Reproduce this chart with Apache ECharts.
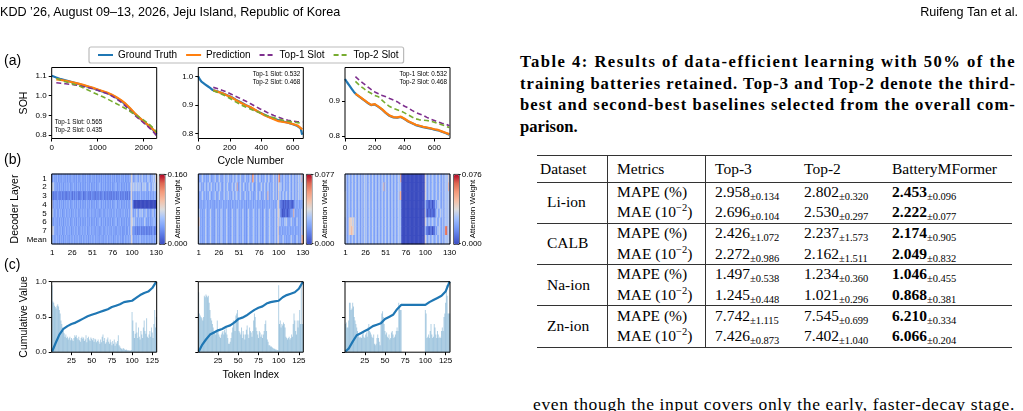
<!DOCTYPE html>
<html>
<head>
<meta charset="utf-8">
<title>Slot analysis figure and Table 4</title>
<script src="https://cdn.jsdelivr.net/npm/echarts@6.0.0/dist/echarts.min.js"></script>
<style>
html,body{margin:0;padding:0;background:#fff;}
#page{position:relative;width:1023px;height:411px;overflow:hidden;background:#fff;}
#fig{position:absolute;left:0;top:0;width:520px;height:411px;}
.txt{position:absolute;white-space:nowrap;color:#000;}
.serif{font-family:'Liberation Serif','Times New Roman',serif;}
.sans{font-family:'Liberation Sans',Arial,sans-serif;}
.cap{position:absolute;left:520px;font-family:'Liberation Serif',serif;font-weight:bold;font-size:16.6px;line-height:21px;white-space:nowrap;color:#000;}
.rule{position:absolute;background:#333;}
.cell{position:absolute;white-space:nowrap;font-family:'Liberation Serif','Times New Roman',serif;font-size:15.5px;line-height:20px;height:20px;color:#000;}
.cell sub{font-size:10.5px;vertical-align:-3px;line-height:0;}
.cell sup{font-size:10.5px;vertical-align:6px;line-height:0;}
</style>
</head>
<body>
<div id="page">
  <div id="fig"></div>
  <div class="txt sans" style="left:0;top:5px;font-size:12.6px;">KDD ’26, August 09–13, 2026, Jeju Island, Republic of Korea</div>
  <div class="txt sans" style="right:5px;top:5px;font-size:12.6px;">Ruifeng Tan et al.</div>
  <div class="cap fit" data-w="496" style="top:51px;">Table 4: Results of data-efficient learning with 50% of the</div>
  <div class="cap fit" data-w="496" style="top:72.5px;">training batteries retained. Top-3 and Top-2 denote the third-</div>
  <div class="cap fit" data-w="496" style="top:94px;">best and second-best baselines selected from the overall com-</div>
  <div class="cap" style="top:115.5px;">parison.</div>
  <div class="txt serif fit" data-w="482" style="left:533px;top:393.5px;font-size:17.5px;line-height:20px;">even though the input covers only the early, faster-decay stage.</div>
</div>
<script>
// ---------- (a) SOH curves ----------
const a1GtCycles = [0,100,200,300,400,500,600,700,800,900,1000,1100,1200,1300,1400,1500,1600,1700,1800,1900,2000,2100,2200,2280];
const a1GtSoh = [1.100,1.091,1.083,1.077,1.071,1.065,1.058,1.051,1.044,1.037,1.029,1.021,1.013,1.003,0.990,0.975,0.957,0.935,0.910,0.888,0.868,0.849,0.828,0.805];
const a1PredCycles = [100,200,300,400,500,600,700,800,900,1000,1100,1200,1300,1400,1500,1600,1700,1800,1900,2000,2100,2200,2280];
const a1PredSoh = [1.082,1.079,1.075,1.070,1.065,1.059,1.053,1.046,1.039,1.031,1.023,1.015,1.005,0.993,0.978,0.960,0.937,0.912,0.890,0.870,0.851,0.830,0.812];
const a1Top1Soh = [1.065,1.062,1.060,1.057,1.054,1.050,1.045,1.040,1.034,1.027,1.019,1.010,0.999,0.985,0.968,0.948,0.925,0.902,0.882,0.862,0.842,0.819,0.797];
const a1Top2Soh = [1.087,1.078,1.070,1.063,1.056,1.048,1.038,1.027,1.016,1.005,0.995,0.984,0.972,0.960,0.948,0.935,0.921,0.906,0.891,0.876,0.859,0.838,0.815];

const a2GtCycles = [0,10,20,30,45,60,75,90,120,150,180,210,240,270,300,330,360,390,420,450,480,510,540,570,600,630,650,660];
const a2GtSoh = [1.000,0.990,0.982,0.978,0.972,0.966,0.960,0.953,0.948,0.942,0.935,0.928,0.918,0.910,0.900,0.892,0.882,0.874,0.866,0.858,0.852,0.846,0.842,0.838,0.832,0.826,0.818,0.795];
const a2PredCycles = [95,120,150,180,210,240,270,300,330,360,390,420,450,480,510,540,570,600,630,660];
const a2PredSoh = [0.952,0.947,0.942,0.934,0.927,0.917,0.908,0.899,0.893,0.883,0.873,0.864,0.857,0.850,0.843,0.840,0.838,0.833,0.828,0.814];
const a2Top1Soh = [0.962,0.958,0.952,0.946,0.938,0.930,0.922,0.914,0.905,0.896,0.887,0.879,0.870,0.863,0.857,0.851,0.846,0.843,0.841,0.840];
const a2Top2Soh = [0.950,0.945,0.938,0.930,0.920,0.910,0.901,0.893,0.886,0.879,0.873,0.866,0.860,0.855,0.850,0.846,0.843,0.840,0.838,0.835];

const a3GtCycles = [0,15,30,45,60,75,100,125,150,175,200,225,250,275,300,325,350,375,400,425,450,475,500,525,550,575,600,625,650,675,700];
const a3GtSoh = [0.963,0.953,0.944,0.935,0.926,0.919,0.911,0.903,0.895,0.888,0.890,0.883,0.875,0.865,0.857,0.853,0.852,0.854,0.848,0.841,0.836,0.831,0.828,0.825,0.823,0.821,0.818,0.816,0.812,0.808,0.803];
const a3PredCycles = [70,100,125,150,175,200,225,250,275,300,325,350,375,400,425,450,475,500,525,550,575,600,625,650,675,700];
const a3PredSoh = [0.921,0.912,0.904,0.896,0.889,0.891,0.884,0.876,0.866,0.858,0.854,0.853,0.855,0.849,0.842,0.837,0.832,0.829,0.826,0.824,0.822,0.819,0.817,0.813,0.809,0.805];
const a3Top1Soh = [0.970,0.958,0.950,0.941,0.933,0.926,0.921,0.916,0.912,0.907,0.903,0.898,0.891,0.885,0.880,0.873,0.867,0.863,0.859,0.853,0.848,0.844,0.840,0.836,0.834,0.829];
const a3Top2Soh = [0.956,0.944,0.936,0.928,0.922,0.916,0.912,0.902,0.892,0.884,0.879,0.875,0.871,0.866,0.860,0.854,0.849,0.846,0.845,0.844,0.842,0.839,0.835,0.832,0.828,0.824];

const slotNotes = [['Top-1 Slot: 0.565', 'Top-2 Slot: 0.435'], ['Top-1 Slot: 0.532', 'Top-2 Slot: 0.468'], ['Top-1 Slot: 0.532', 'Top-2 Slot: 0.468']];

// ---------- (b) attention heatmaps: one digit per token, 0..9 = share of colorbar max ----------
const layerLabels = ['1', '2', '3', '4', '5', '6', '7', 'Mean'];
const heatTickIdx = [0, 25, 50, 75, 99, 129];
const heatMax = [0.160, 0.077, 0.076];
const heat1Rows = [
  '2232322322 3223232232 2322323223 2232232322 3223232223 2322322322 3223232232 2322323223 2232232322 3223223245 3232433234 2343233234 3323334345',
  '4443232232 2323223232 3232232323 2232322322 3223232232 2322322323 3223232232 2322322323 3223232232 2322322345 3434343434 3243434323 3432343443',
  '3212121221 2121212112 1212211212 2121121221 1212212112 2121121212 1212212121 2121121212 1212212121 2121121245 2323232323 3232323232 2323232332',
  '6323232232 2323223232 3232232323 2232322322 3223232232 2322322323 3223232232 2322322323 3223232232 2322322345 2100000000 0000000000 0000000000',
  '4432323223 3232232323 2323223232 3232232323 2323223232 3232232322 2323223232 3232232323 2323223232 3232232345 3233243234 3343233423 2323243233',
  '3323232232 2323223232 3232232323 2232322322 3223232232 2322322323 3223232232 2322322323 3223232232 2322322345 4343232332 3232343232 2323233332',
  '5443232232 3232232323 2323223232 3232232323 2323223232 3232232322 2323223232 3232232322 2323223222 2322232345 2222121212 2121212121 2121222121',
  '3332323232 2323223232 3223232323 2323232232 3232322323 2323232322 3232232323 2323232232 3232323222 3232323245 3232323233 3232323232 3232323233'
];
const heat2Rows = [
  '3232343233 2323432323 3423234323 2343233432 3234323433 2343232343 2323432763 2343234323 3234323432 3234324325 8423234323 3234323432 3423434363',
  '3343232343 2343234323 3234323432 2343234323 2343234362 2343234323 3234323432 2343232343 2343234323 3234324325 4343234323 3234323432 3423434334',
  '3232343233 2323432323 3423234323 2343233432 3234323433 2343232343 2323432323 2343234323 2343236323 3234324325 3432343234 3234323432 3423434334',
  '2323232323 3232323232 2323232323 3232323232 2323232323 3232323232 2323232323 3232323232 2323232323 3232323245 3211101101 1011110112 3232323233',
  '3432323234 3232343232 2343232343 3232343232 2343232343 3232343232 2343232343 3232343232 2343232343 3232343245 4311010111 0111223263 2323232343',
  '6532323234 3232343232 2343232343 3232343232 2343232343 3232343232 2343232343 3232343232 2343232343 3232343245 3432323434 3232343232 2343232343',
  '4432323234 3232343232 2343232343 3232343232 2343232343 3232343232 2343232343 3232343232 2343232343 3232343245 2323232323 2323232323 2323232353',
  '3432323234 3232343232 2343232343 3232343232 2343232343 3232343232 2343232343 3232343232 2343232343 3232343245 3232343232 3232343232 2343232366'
];
const heat3Rows = [
  '3432343234 3234323432 3423434323 4323432343 2343234323 4323432343 2343234347 0000000000 0000000000 0000000005 4323432343 3234323432 3423434353',
  '3432343234 3234323432 3423434323 4323432343 2343234362 4323432343 2343234343 0000000000 0000000000 0000000005 4323432343 3234323432 3423434363',
  '4432343234 3234323432 3423434323 4323432343 2343234323 4323432343 2343234366 0000000000 0000000000 0000000005 4323432343 3234323432 3423434343',
  '4432343234 3234323432 3423434323 4323432343 2343234323 4323432343 2343234343 0000000000 0000000000 0000000004 2111011101 1132343432 3423434343',
  '4432343234 3234323432 3423434323 4323432343 2343234323 4323432343 2343234343 0000000000 0000000000 0000000005 2101110111 0123432343 3423434343',
  '3432355554 5434323432 3423434323 4323432343 2343234323 4323432343 2343234343 0000000000 0000000000 0000000005 4323432343 3234323432 3423434343',
  '3432355565 5434323432 3423434323 4323432343 2343234323 4323432343 2343234343 0000000000 0000000000 0000000004 2111011101 1132343432 3423787343',
  '3432343234 3234323432 3423434323 4323432343 2343234323 4323432343 2343234343 0000000000 0000000000 0000000005 4323432343 3234323432 3423434343'
];

// ---------- (c) token attention bars and cumulative curves ----------
const c1Bars = [0.95,0.72,0.70,0.66,0.64,0.62,0.66,0.68,0.65,0.60, 0.55,0.45,0.40,0.35,0.30,0.27,0.22,0.25,0.20,0.22,
  0.18,0.20,0.22,0.17,0.20,0.18,0.16,0.20,0.24,0.22, 0.24,0.20,0.18,0.22,0.17,0.15,0.20,0.22,0.19,0.21,
  0.16,0.18,0.24,0.14,0.20,0.22,0.18,0.16,0.21,0.19, 0.17,0.20,0.15,0.19,0.18,0.14,0.16,0.18,0.15,0.12,
  0.18,0.14,0.22,0.25,0.16,0.20,0.12,0.14,0.18,0.21, 0.15,0.12,0.18,0.14,0.10,0.16,0.12,0.18,0.09,0.14,
  0.12,0.16,0.24,0.10,0.08,0.06,0.05,0.04,0.06,0.05, 0.04,0.03,0.04,0.03,0.02,0.03,0.02,0.02,0.03,0.57,
  0.45,0.30,0.20,0.26,0.42,0.28,0.20,0.35,0.22,0.18, 0.30,0.25,0.20,0.35,0.45,0.30,0.26,0.48,0.22,0.20,
  0.25,0.30,0.22,0.35,0.28,0.20,0.40,0.60,0.35,0.50];
const c2Bars = [0.85,0.55,0.52,0.50,0.48,0.45,0.50,0.80,0.78,0.82, 0.80,0.78,0.80,0.70,0.60,0.48,0.45,0.40,0.35,0.30,
  0.28,0.25,0.30,0.45,0.30,0.25,0.22,0.20,0.25,0.28, 0.30,0.25,0.32,0.28,0.35,0.25,0.20,0.12,0.12,0.15,
  0.20,0.28,0.35,0.45,0.40,0.30,0.52,0.55,0.60,0.50, 0.30,0.28,0.25,0.35,0.20,0.30,0.25,0.18,0.25,0.32,
  0.38,0.25,0.20,0.35,0.30,0.28,0.22,0.30,0.45,0.55, 0.50,0.35,0.30,0.25,0.20,0.30,0.28,0.22,0.25,0.20,
  0.25,0.30,0.40,0.45,0.30,0.18,0.15,0.10,0.10,0.08, 0.08,0.07,0.06,0.05,0.05,0.04,0.04,0.03,0.03,0.95,
  0.40,0.45,0.35,0.40,0.38,0.42,0.40,0.35,0.22,0.20, 0.18,0.20,0.22,0.18,0.20,0.25,0.22,0.40,0.55,0.45,
  0.30,0.25,0.45,0.35,0.45,0.60,0.40,0.95,0.40,0.40];
const c3Bars = [0.40,0.42,0.35,0.35,0.45,0.70,0.70,0.60,0.62,0.70, 0.65,0.50,0.45,0.40,0.35,0.30,0.25,0.22,0.20,0.22,
  0.20,0.25,0.30,0.22,0.20,0.25,0.28,0.22,0.35,0.40, 0.30,0.28,0.25,0.22,0.20,0.25,0.12,0.10,0.12,0.20,
  0.25,0.20,0.15,0.10,0.45,0.55,0.58,0.50,0.40,0.30, 0.25,0.28,0.22,0.20,0.25,0.18,0.20,0.28,0.30,0.25,
  0.20,0.22,0.25,0.30,0.35,0.30,0.70,0.65,0.60,0.60, 0,0,0,0,0,0,0,0,0,0,
  0,0,0,0,0,0,0,0,0,0, 0,0,0,0,0,0,0,0,0,0.60,
  0.55,0.20,0.22,0.25,0.20,0.30,0.40,0.25,0.20,0.22, 0.40,0.35,0.25,0.20,0.30,0.25,0.20,0.22,0.20,0.30,
  0.35,0.30,0.50,0.55,0.70,0.95,0.80,0.55,0.55,0.55];
const cumTokens = [1,5,10,15,20,25,30,35,40,45,50,55,60,65,70,75,80,85,90,95,100,105,110,115,120,125,130];
const c1Cum = [0.01,0.12,0.25,0.33,0.37,0.40,0.42,0.45,0.48,0.51,0.53,0.55,0.57,0.59,0.61,0.64,0.66,0.68,0.71,0.72,0.73,0.77,0.81,0.84,0.86,0.91,1.00];
const c2Cum = [0.01,0.10,0.18,0.25,0.28,0.31,0.33,0.36,0.38,0.42,0.47,0.49,0.52,0.56,0.60,0.63,0.65,0.69,0.71,0.72,0.73,0.78,0.81,0.83,0.85,0.90,1.00];
const c3Cum = [0.01,0.05,0.15,0.24,0.27,0.30,0.33,0.37,0.39,0.41,0.47,0.50,0.53,0.61,0.67,0.67,0.67,0.67,0.67,0.67,0.67,0.71,0.74,0.77,0.80,0.86,1.00];
const tokenTicks = [25, 50, 75, 100, 125];

// ---------- Table 4 ----------
const tableDatasets = ['Li-ion', 'CALB', 'Na-ion', 'Zn-ion'];
const tableMetrics = ['MAPE (%)', 'MAE (10<sup>−2</sup>)'];
const tableHeader = ['Dataset', 'Metrics', 'Top-3', 'Top-2', 'BatteryMFormer'];
const top3Mean = [2.958, 2.696, 2.426, 2.272, 1.497, 1.245, 7.742, 7.426];
const top3Std = [0.134, 0.104, 1.072, 0.986, 0.538, 0.448, 1.115, 0.873];
const top2Mean = [2.802, 2.530, 2.237, 2.162, 1.234, 1.021, 7.545, 7.402];
const top2Std = [0.320, 0.297, 1.573, 1.511, 0.360, 0.296, 0.699, 1.040];
const oursMean = [2.453, 2.222, 2.174, 2.049, 1.046, 0.868, 6.210, 6.066];
const oursStd = [0.096, 0.077, 0.905, 0.832, 0.455, 0.381, 0.334, 0.204];

// ======================================================================
const FONT = "'Liberation Sans', Arial, sans-serif";
const BLUE = '#1f77b4', ORANGE = '#ff7f0e', PURPLE = '#7e2f8e', GREEN = '#77ac30';
const COOLWARM = ['#3b4cc0', '#5875e1', '#7b9ff9', '#a3c2fe', '#dddddd', '#f5c0a6', '#f49a7b', '#dd6651', '#b40426'];
const colLeft = [51.7, 198.3, 345];
const W = 105;
const lab = { fontSize: 8, color: '#000', fontFamily: FONT };
const nameStyle = { fontSize: 10.5, color: '#000', fontFamily: FONT };

const grids = [], xAxes = [], yAxes = [], series = [], visualMaps = [], graphics = [];
const pair = (xs, ys) => xs.map((x, i) => [x, ys[i]]);

function text(x, y, s, size, align, vAlign, rot) {
  return {
    type: 'text', x, y, rotation: rot || 0, silent: true,
    style: { text: s, fontSize: size, fontFamily: FONT, fill: '#000',
      align: align, verticalAlign: vAlign, textAlign: align, textVerticalAlign: vAlign }
  };
}
function frameGrid(left, top, width, height) {
  grids.push({ left, top, width, height, show: true, borderColor: '#000', borderWidth: 1, backgroundColor: 'transparent', z: 10 });
  return grids.length - 1;
}

// panel (a)
const aPlots = [
  { gx: a1GtCycles, gy: a1GtSoh, px: a1PredCycles, pred: a1PredSoh, t1: a1Top1Soh, t2: a1Top2Soh, xMax: 2283, xTicks: [0, 1000, 2000], yMin: 0.783, yMax: 1.142, yTicks: [0.8, 0.9, 1.0, 1.1] },
  { gx: a2GtCycles, gy: a2GtSoh, px: a2PredCycles, pred: a2PredSoh, t1: a2Top1Soh, t2: a2Top2Soh, xMax: 667, xTicks: [0, 200, 400, 600], yMin: 0.782, yMax: 1.032, yTicks: [0.8, 0.9, 1.0] },
  { gx: a3GtCycles, gy: a3GtSoh, px: a3PredCycles, pred: a3PredSoh, t1: a3Top1Soh, t2: a3Top2Soh, xMax: 705, xTicks: [0, 200, 400, 600], yMin: 0.7925, yMax: 0.996, yTicks: [0.8, 0.9] }
];
aPlots.forEach((p, i) => {
  const g = frameGrid(colLeft[i], 67.5, W, 71);
  xAxes.push({ gridIndex: g, type: 'value', min: 0, max: p.xMax, splitLine: { show: false }, axisLine: { show: false },
    axisTick: { length: 3, customValues: p.xTicks, lineStyle: { color: '#000' } },
    axisLabel: Object.assign({ margin: 5, customValues: p.xTicks, formatter: v => String(v) }, lab),
    name: i === 1 ? 'Cycle Number' : '', nameLocation: 'middle', nameGap: 17, nameTextStyle: nameStyle });
  yAxes.push({ gridIndex: g, type: 'value', min: p.yMin, max: p.yMax, splitLine: { show: false }, axisLine: { show: false },
    axisTick: { length: 3, customValues: p.yTicks, lineStyle: { color: '#000' } },
    axisLabel: Object.assign({ margin: 5, customValues: p.yTicks, formatter: v => v.toFixed(1) }, lab),
    name: i === 0 ? 'SOH' : '', nameLocation: 'middle', nameGap: 22, nameTextStyle: nameStyle });
  const common = { xAxisIndex: g, yAxisIndex: g, symbol: 'none', silent: true };
  series.push(Object.assign({ type: 'line', name: 'Ground Truth', data: pair(p.gx, p.gy), lineStyle: { color: BLUE, width: 2.2 }, itemStyle: { color: BLUE } }, common));
  series.push(Object.assign({ type: 'line', name: 'Prediction', data: pair(p.px, p.pred), lineStyle: { color: ORANGE, width: 2.2 }, itemStyle: { color: ORANGE } }, common));
  series.push(Object.assign({ type: 'line', name: 'Top-1 Slot', data: pair(p.px, p.t1), lineStyle: { color: PURPLE, width: 1.6, type: [5, 3] }, itemStyle: { color: PURPLE } }, common));
  series.push(Object.assign({ type: 'line', name: 'Top-2 Slot', data: pair(p.px, p.t2), lineStyle: { color: GREEN, width: 1.6, type: [5, 3] }, itemStyle: { color: GREEN } }, common));
  if (i === 0) {
    graphics.push(text(colLeft[i] + 3, 122.5, slotNotes[i][0], 6.3, 'left', 'middle'));
    graphics.push(text(colLeft[i] + 3, 130.5, slotNotes[i][1], 6.3, 'left', 'middle'));
  } else {
    graphics.push(text(colLeft[i] + W - 3, 74, slotNotes[i][0], 6.3, 'right', 'middle'));
    graphics.push(text(colLeft[i] + W - 3, 82.3, slotNotes[i][1], 6.3, 'right', 'middle'));
  }
});

// panel (b)
const tokenNames = [];
for (let t = 1; t <= 130; t++) tokenNames.push(String(t));
const cbLeft = [159, 306, 453.3];
[heat1Rows, heat2Rows, heat3Rows].forEach((rows, i) => {
  const g = frameGrid(colLeft[i], 174, W, 70);
  xAxes.push({ gridIndex: g, type: 'category', data: tokenNames, axisLine: { show: false }, splitLine: { show: false },
    axisTick: { length: 3, alignWithLabel: true, interval: idx => heatTickIdx.includes(idx), lineStyle: { color: '#000' } },
    axisLabel: Object.assign({ margin: 5, interval: idx => heatTickIdx.includes(idx) }, lab) });
  yAxes.push({ gridIndex: g, type: 'category', data: layerLabels, inverse: true, axisLine: { show: false }, splitLine: { show: false },
    axisTick: { length: 3, alignWithLabel: true, interval: 0, lineStyle: { color: '#000' } },
    axisLabel: Object.assign({ margin: 5, interval: 0, show: i === 0 }, lab),
    name: i === 0 ? 'Decoder Layer' : '', nameLocation: 'middle', nameGap: 31, nameTextStyle: nameStyle });
  const data = [];
  rows.forEach((row, r) => {
    const s = row.replace(/\s/g, '');
    for (let c = 0; c < 130; c++) data.push([c, r, Number(s[c] || 0) / 9 * heatMax[i]]);
  });
  series.push({ type: 'heatmap', xAxisIndex: g, yAxisIndex: g, data, silent: true, itemStyle: { borderWidth: 0 }, emphasis: { disabled: true } });
  visualMaps.push({ type: 'continuous', seriesIndex: series.length - 1, min: 0, max: heatMax[i], orient: 'vertical',
    left: cbLeft[i], top: 174, itemWidth: 5.5, itemHeight: 70, padding: 0, calculable: false, hoverLink: false,
    inRange: { color: COOLWARM }, borderColor: '#000', borderWidth: 0.8 });
  const lx = cbLeft[i] + 5.5;
  graphics.push({ type: 'line', silent: true, shape: { x1: lx, y1: 174.5, x2: lx + 2, y2: 174.5 }, style: { stroke: '#000', lineWidth: 0.8 } });
  graphics.push({ type: 'line', silent: true, shape: { x1: lx, y1: 243.5, x2: lx + 2, y2: 243.5 }, style: { stroke: '#000', lineWidth: 0.8 } });
  graphics.push(text(lx + 3, 174.5, heatMax[i].toFixed(3), 8, 'left', 'middle'));
  graphics.push(text(lx + 3, 243.5, (0).toFixed(3), 8, 'left', 'middle'));
  graphics.push(text(lx + 13.5, 209, 'Attention Weight', 8, 'center', 'middle', Math.PI / 2));
});

// panel (c)
[[c1Bars, c1Cum], [c2Bars, c2Cum], [c3Bars, c3Cum]].forEach(([bars, cum], i) => {
  const g = frameGrid(colLeft[i], 281.7, W, 70.5);
  xAxes.push({ gridIndex: g, type: 'value', min: 0.5, max: 130.5, splitLine: { show: false }, axisLine: { show: false },
    axisTick: { length: 3, customValues: tokenTicks, lineStyle: { color: '#000' } },
    axisLabel: Object.assign({ margin: 5, customValues: tokenTicks }, lab),
    name: i === 1 ? 'Token Index' : '', nameLocation: 'middle', nameGap: 17, nameTextStyle: nameStyle });
  yAxes.push({ gridIndex: g, type: 'value', min: 0, max: 1, splitLine: { show: false }, axisLine: { show: false },
    axisTick: { length: 3, customValues: [0, 0.5, 1], lineStyle: { color: '#000' } },
    axisLabel: Object.assign({ margin: 5, show: i === 0, customValues: [0, 0.5, 1], formatter: v => v.toFixed(1) }, lab),
    name: i === 0 ? 'Cumulative Value' : '', nameLocation: 'middle', nameGap: 22, nameTextStyle: nameStyle });
  series.push({ type: 'bar', xAxisIndex: g, yAxisIndex: g, silent: true, barWidth: 0.8,
    data: bars.map((v, k) => [k + 1, v]), itemStyle: { color: 'rgba(31,119,180,0.34)' } });
  series.push({ type: 'line', xAxisIndex: g, yAxisIndex: g, silent: true, symbol: 'none',
    data: pair(cumTokens, cum), lineStyle: { color: BLUE, width: 2.2 } });
});

graphics.push(text(4, 61.5, '(a)', 14, 'left', 'middle'));
graphics.push(text(4, 160, '(b)', 14, 'left', 'middle'));
graphics.push(text(4, 265, '(c)', 14, 'left', 'middle'));

const chart = echarts.init(document.getElementById('fig'), null, { renderer: 'canvas' });
chart.setOption({
  animation: false,
  textStyle: { fontFamily: FONT },
  legend: {
    data: ['Ground Truth', 'Prediction', 'Top-1 Slot', 'Top-2 Slot'],
    left: 89, top: 47, itemWidth: 15, itemHeight: 10, itemGap: 8, padding: [3, 5, 3, 8],
    borderColor: '#bbb', borderWidth: 1.2, borderRadius: 2, selectedMode: false,
    itemStyle: { opacity: 0, borderWidth: 0 },
    textStyle: { fontSize: 10, color: '#000', fontFamily: FONT }
  },
  grid: grids,
  xAxis: xAxes,
  yAxis: yAxes,
  visualMap: visualMaps,
  series: series,
  graphic: graphics
});

// ---------- table (HTML text) ----------
const page = document.getElementById('page');
function addEl(cls, css, html) {
  const d = document.createElement('div');
  d.className = cls;
  d.style.cssText = css;
  if (html !== undefined) d.innerHTML = html;
  page.appendChild(d);
}
const tLeft = 537, tRight = 1012, tTop = 154.5, headBot = 181.5, groupH = 41.25, rowH = 20.6;
const tBottom = headBot + groupH * tableDatasets.length;
addEl('rule', `left:${tLeft}px;top:${tTop}px;width:${tRight - tLeft}px;height:1.6px;`);
addEl('rule', `left:${tLeft}px;top:${headBot}px;width:${tRight - tLeft}px;height:1px;`);
for (let g = 1; g < tableDatasets.length; g++)
  addEl('rule', `left:${tLeft}px;top:${headBot + g * groupH}px;width:${tRight - tLeft}px;height:1px;`);
addEl('rule', `left:${tLeft}px;top:${tBottom}px;width:${tRight - tLeft}px;height:1.6px;`);
[607, 705].forEach(x => addEl('rule', `left:${x}px;top:${tTop}px;width:1px;height:${tBottom - tTop + 1}px;`));

const headX = [540, 617, 715, 804, 892];
tableHeader.forEach((h, k) => addEl('cell', `left:${headX[k]}px;top:${169 - 10}px;`, h));
const fmt = (m, s, bold) => (bold ? `<b>${m.toFixed(3)}</b>` : m.toFixed(3)) + `<sub>±${s.toFixed(3)}</sub>`;
tableDatasets.forEach((ds, g) => {
  const gTop = headBot + g * groupH;
  addEl('cell', `left:547px;top:${gTop + groupH / 2 - 10}px;`, ds);
  tableMetrics.forEach((m, r) => {
    const k = g * 2 + r;
    const cy = gTop + 10.3 + r * rowH;
    addEl('cell', `left:617px;top:${cy - 10}px;`, m);
    addEl('cell', `left:715px;top:${cy - 10}px;`, fmt(top3Mean[k], top3Std[k], false));
    addEl('cell', `left:804px;top:${cy - 10}px;`, fmt(top2Mean[k], top2Std[k], false));
    addEl('cell', `left:892px;top:${cy - 10}px;`, fmt(oursMean[k], oursStd[k], true));
  });
});

// stretch justified prose lines to their measured widths
document.querySelectorAll('.fit').forEach(el => {
  const target = Number(el.dataset.w);
  const w = el.getBoundingClientRect().width;
  const n = el.textContent.length;
  if (w < target && n > 1) el.style.letterSpacing = ((target - w) / n).toFixed(3) + 'px';
});
</script>
</body>
</html>
